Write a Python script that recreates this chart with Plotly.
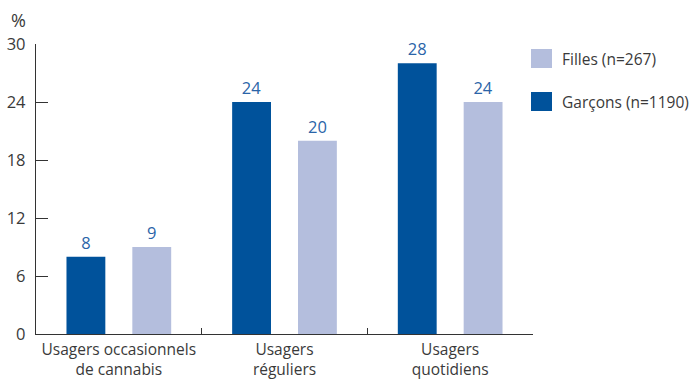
import plotly.graph_objects as go

# Share of users by frequency of cannabis use, boys vs girls
categories = ["Usagers occasionnels<br>de cannabis", "Usagers<br>réguliers", "Usagers<br>quotidiens"]
garcons = [8, 24, 28]
filles = [9, 20, 24]
series_names = ["Garçons (n=1190)", "Filles (n=267)"]
y_ticks = [0, 6, 12, 18, 24, 30]

DARK = "#00529b"
LIGHT = "#b4bedd"
LABEL_BLUE = "#2a64a8"
TEXT = "#3a3a3a"
FONT = "Open Sans"

fig = go.Figure()
for name, vals, color in [(series_names[0], garcons, DARK), (series_names[1], filles, LIGHT)]:
    fig.add_trace(go.Bar(
        x=categories, y=vals, name=name,
        marker=dict(color=color, line=dict(width=0)),
        text=[str(v) for v in vals], textposition="outside",
        textfont=dict(color=LABEL_BLUE, size=16.5, family=FONT),
        cliponaxis=False, showlegend=False,
    ))

# Legend drawn as swatches + labels on the right (Filles listed first)
legend_items = [(series_names[1], LIGHT), (series_names[0], DARK)]
for i, (name, color) in enumerate(legend_items):
    y0 = 49 + i * 43
    fig.add_shape(type="rect", xref="paper", yref="paper",
                  x0=(531 - 36) / 497, x1=(552 - 36) / 497,
                  y0=1 - (y0 + 19 - 44) / 290, y1=1 - (y0 - 44) / 290,
                  fillcolor=color, line=dict(width=0))
    fig.add_annotation(xref="paper", yref="paper",
                       x=(560 - 36) / 497, y=1 - (y0 + 9.5 - 44) / 290,
                       text=name, showarrow=False, xanchor="left", yanchor="middle",
                       font=dict(size=15.5, color=TEXT, family=FONT))

# "%" unit label above the y axis
fig.add_annotation(xref="paper", yref="paper", x=-(36 - 18) / 497, y=1 + (44 - 20) / 290,
                   text="%", showarrow=False, xanchor="center", yanchor="middle",
                   font=dict(size=18, color=TEXT, family=FONT))

fig.update_layout(
    width=692, height=380,
    margin=dict(l=36, r=159, t=44, b=46),
    paper_bgcolor="white", plot_bgcolor="white",
    barmode="group", bargap=0.205, bargroupgap=0.41,
    font=dict(family=FONT, size=15, color=TEXT),
    showlegend=False,
)
fig.update_xaxes(
    automargin=False,
    showline=True, linecolor="#333333", linewidth=1.3,
    ticks="inside", tickson="boundaries", ticklen=6, tickcolor="#333333",
    tickfont=dict(size=15.5, color=TEXT, family=FONT),
    ticklabelstandoff=1,
    showgrid=False,
)
fig.update_yaxes(
    automargin=False,
    range=[0, 30], tickvals=y_ticks,
    showline=True, linecolor="#333333", linewidth=1.3,
    ticks="inside", ticklen=12, tickcolor="#333333",
    tickfont=dict(size=16.5, color=TEXT, family=FONT),
    ticklabelstandoff=6,
    showgrid=False, zeroline=False,
)

fig.write_html("out.html")
